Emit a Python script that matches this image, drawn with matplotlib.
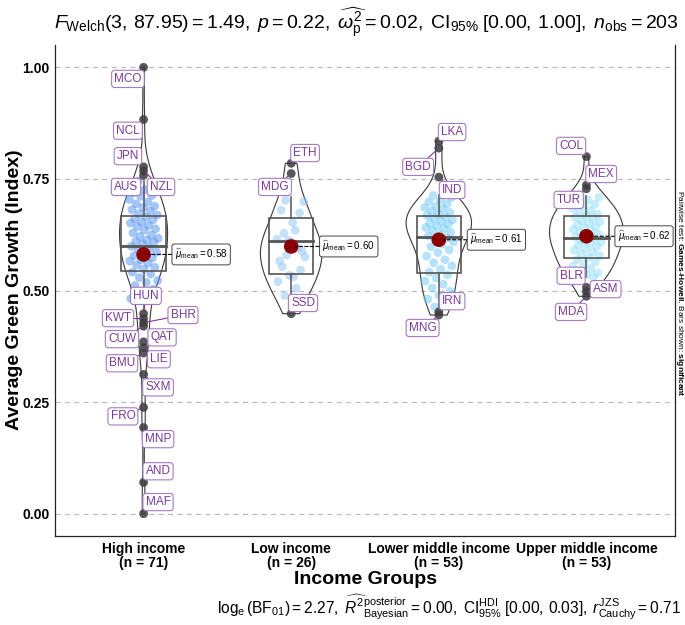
import numpy as np
import matplotlib
matplotlib.use('Agg')
import matplotlib.pyplot as plt
from matplotlib.patches import Rectangle, Polygon

plt.rcParams['font.family'] = ['Liberation Sans', 'DejaVu Sans']
plt.rcParams['mathtext.fontset'] = 'custom'
plt.rcParams['mathtext.rm'] = 'Liberation Sans'
plt.rcParams['mathtext.it'] = 'Liberation Sans:italic'
plt.rcParams['mathtext.bf'] = 'Liberation Sans:bold'

# ---------------- data ----------------
groups = ['High income', 'Low income', 'Lower middle income', 'Upper middle income']
n_obs = [71, 26, 53, 53]
y_ticks = [0.00, 0.25, 0.50, 0.75, 1.00]
y_tick_labels = ['0.00', '0.25', '0.50', '0.75', '1.00']

# non-labelled observations per group
high_vals = [0.745, 0.732, 0.726, 0.719, 0.713, 0.711, 0.704, 0.698, 0.694, 0.689,
             0.686, 0.681, 0.678, 0.672, 0.669, 0.665, 0.661, 0.658, 0.653, 0.651,
             0.646, 0.643, 0.638, 0.635, 0.629, 0.624, 0.621, 0.617, 0.613, 0.610,
             0.608, 0.604, 0.599, 0.595, 0.592, 0.586, 0.581, 0.578, 0.573, 0.569,
             0.566, 0.561, 0.557, 0.552, 0.548, 0.541, 0.537, 0.529, 0.522, 0.518,
             0.511, 0.503, 0.496, 0.482]
low_vals = [0.702, 0.699, 0.652, 0.680, 0.674, 0.612, 0.615, 0.635, 0.628, 0.588,
            0.609, 0.566, 0.595, 0.579, 0.575, 0.531, 0.553, 0.546, 0.534, 0.520,
            0.505, 0.489, 0.482]
lower_mid_vals = [0.713, 0.708, 0.702, 0.699, 0.694, 0.689, 0.686, 0.683, 0.678, 0.675,
                  0.671, 0.668, 0.665, 0.662, 0.658, 0.655, 0.651, 0.648, 0.645, 0.641,
                  0.638, 0.634, 0.630, 0.626, 0.622, 0.618, 0.614, 0.609, 0.604, 0.598,
                  0.591, 0.585, 0.577, 0.569, 0.562, 0.555, 0.548, 0.541, 0.535, 0.528,
                  0.521, 0.514, 0.506, 0.498, 0.489, 0.481, 0.472, 0.463]
upper_mid_vals = [0.714, 0.709, 0.703, 0.698, 0.693, 0.689, 0.684, 0.679, 0.675, 0.671,
                  0.668, 0.664, 0.661, 0.657, 0.654, 0.650, 0.647, 0.643, 0.640, 0.636,
                  0.633, 0.629, 0.626, 0.622, 0.619, 0.616, 0.612, 0.609, 0.605, 0.602,
                  0.598, 0.594, 0.590, 0.586, 0.582, 0.578, 0.574, 0.569, 0.564, 0.559,
                  0.554, 0.549, 0.544, 0.539, 0.535, 0.532, 0.530]

# labelled (outlying) observations per group
high_out_names = ['MCO', 'NCL', 'JPN', 'NZL', 'AUS', 'HUN', 'KWT', 'BHR', 'CUW', 'QAT',
                  'LIE', 'BMU', 'SXM', 'FRO', 'MNP', 'AND', 'MAF']
high_out_vals = [1.000, 0.883, 0.777, 0.768, 0.758, 0.448, 0.437, 0.428, 0.420, 0.385,
                 0.372, 0.360, 0.312, 0.238, 0.193, 0.070, 0.000]
low_out_names = ['ETH', 'MDG', 'SSD']
low_out_vals = [0.785, 0.762, 0.448]
lower_mid_out_names = ['LKA', 'BGD', 'IND', 'IRN', 'MNG']
lower_mid_out_vals = [0.835, 0.819, 0.754, 0.452, 0.445]
upper_mid_out_names = ['COL', 'MEX', 'TUR', 'BLR', 'ASM', 'MDA']
upper_mid_out_vals = [0.800, 0.736, 0.728, 0.507, 0.498, 0.487]

# box statistics: lower whisker, Q1, median, Q3, upper whisker
box_lo_whisker = [0.455, 0.468, 0.463, 0.530]
box_q1 = [0.544, 0.537, 0.540, 0.573]
box_median = [0.599, 0.612, 0.620, 0.618]
box_q3 = [0.667, 0.663, 0.667, 0.667]
box_hi_whisker = [0.745, 0.710, 0.713, 0.712]

title_text = (r'$F_{\mathrm{Welch}}(3,\,87.95) = 1.49,\;p = 0.22,\;'
              r'\widehat{\omega_{\mathrm{p}}^{2}} = 0.02,\;\mathrm{CI}_{95\%}\;[0.00,\,1.00],\;'
              r'n_{\mathrm{obs}} = 203$')
caption_text = (r'$\log_{\mathrm{e}}(\mathrm{BF}_{01}) = 2.27,\;'
                r'\widehat{R^{2}}_{\mathrm{Bayesian}}^{\mathrm{posterior}} = 0.00,\;'
                r'\mathrm{CI}_{95\%}^{\mathrm{HDI}}\;[0.00,\,0.03],\;'
                r'r_{\mathrm{Cauchy}}^{\mathrm{JZS}} = 0.71$')
side_text = r'Pairwise test: $\mathbf{Games}$-$\mathbf{Howell}$, Bars shown: $\mathbf{significant}$'
x_title = 'Income Groups'
y_title = 'Average Green Growth (Index)'

# ---------------- layout / style ----------------
point_colors = ['#4f8ff0', '#8cc4f6', '#6ec8f6', '#8fdcf5']
label_text_color = '#7b3a99'
label_edge_color = '#a57cc0'

# label positions (data coords) for the labelled observations
high_lab_pos = [(-0.106, 0.974), (-0.106, 0.858), (-0.106, 0.801), (0.118, 0.732), (-0.119, 0.732),
                (0.016, 0.488), (-0.173, 0.438), (0.267, 0.445), (-0.146, 0.391), (0.125, 0.395),
                (0.104, 0.346), (-0.146, 0.337), (0.098, 0.283), (-0.140, 0.218), (0.098, 0.167),
                (0.098, 0.095), (0.098, 0.026)]
low_lab_pos = [(1.094, 0.808), (0.890, 0.732), (1.080, 0.472)]
lower_mid_lab_pos = [(2.09, 0.855), (1.86, 0.777), (2.09, 0.725), (2.09, 0.476), (1.89, 0.416)]
upper_mid_lab_pos = [(2.896, 0.824), (3.10, 0.761), (2.88, 0.703), (2.896, 0.533), (3.13, 0.503),
                     (2.896, 0.452)]

vals_all = [high_vals, low_vals, lower_mid_vals, upper_mid_vals]
out_names_all = [high_out_names, low_out_names, lower_mid_out_names, upper_mid_out_names]
out_vals_all = [high_out_vals, low_out_vals, lower_mid_out_vals, upper_mid_out_vals]
lab_pos_all = [high_lab_pos, low_lab_pos, lower_mid_lab_pos, upper_mid_lab_pos]

W, H = 685, 625
fig = plt.figure(figsize=(W / 100, H / 100), dpi=100)
ax = fig.add_axes([55 / W, 1 - 536 / H, 620 / W, 491 / H])
ax.set_xlim(-0.6, 3.6)
ax.set_ylim(-0.05, 1.05)

for s in ['left', 'bottom', 'right']:
    ax.spines[s].set_color('#222222')
    ax.spines[s].set_linewidth(0.9)
ax.spines['top'].set_visible(False)

ax.set_yticks(y_ticks)
ax.set_yticklabels(y_tick_labels, fontsize=10, fontweight='bold')
ax.set_xticks(range(len(groups)))
ax.set_xticklabels([f'{g}\n(n = {n})' for g, n in zip(groups, n_obs)],
                   fontsize=10, fontweight='bold', linespacing=1.05)
ax.tick_params(axis='both', length=0, pad=4)
for yt in y_ticks:
    ax.axhline(yt, color='#bdbdbd', lw=0.9, ls=(0, (4, 3.5)), zorder=0)


def kde(data, grid):
    data = np.asarray(data)
    n = len(data)
    sd = np.std(data, ddof=1)
    iqr = np.subtract(*np.percentile(data, [75, 25]))
    lo = min(sd, iqr / 1.34)
    bw = 0.9 * lo * n ** (-0.2)
    z = (grid[:, None] - data[None, :]) / bw
    return np.exp(-0.5 * z ** 2).sum(axis=1) / (n * bw * np.sqrt(2 * np.pi))


# violins (scale = area)
dens = []
grids = []
for i in range(4):
    d = np.concatenate([vals_all[i], out_vals_all[i]])
    g = np.linspace(d.min(), d.max(), 400)
    grids.append(g)
    dens.append(kde(d, g))
dmax = max(dd.max() for dd in dens)
for i in range(4):
    hw = 0.25 * dens[i] / dmax
    g = grids[i]
    xs = np.concatenate([i - hw, (i + hw)[::-1]])
    ys = np.concatenate([g, g[::-1]])
    ax.add_patch(Polygon(np.column_stack([xs, ys]), closed=True, fill=False,
                         edgecolor='#3a3a3a', lw=0.8, zorder=2))

# jittered points
for i in range(4):
    v = np.asarray(vals_all[i])
    k = np.arange(len(v))
    offs = ((k * 0.6180339887 + 0.31) % 1.0 - 0.5) * 0.2
    ax.scatter(i + offs, v, s=40, color=point_colors[i], alpha=0.5,
               edgecolors='none', zorder=3)

# boxes
bw_box = 0.3
for i in range(4):
    ax.add_patch(Rectangle((i - bw_box / 2, box_q1[i]), bw_box, box_q3[i] - box_q1[i],
                           fill=False, edgecolor='#555555', lw=1.2, zorder=4))
    ax.plot([i - bw_box / 2, i + bw_box / 2], [box_median[i]] * 2, color='#555555', lw=2.0, zorder=4)
    ax.plot([i, i], [box_q3[i], box_hi_whisker[i]], color='#555555', lw=1.1, zorder=4)
    ax.plot([i, i], [box_lo_whisker[i], box_q1[i]], color='#555555', lw=1.1, zorder=4)

# outliers + labels
for i in range(4):
    ov = out_vals_all[i]
    ax.scatter([i] * len(ov), ov, s=40, color='#3c3c3c', alpha=0.85, edgecolors='none', zorder=5)
    for name, val, (lx, ly) in zip(out_names_all[i], ov, lab_pos_all[i]):
        ax.annotate(name, xy=(i, val), xytext=(lx, ly), ha='center', va='center',
                    fontsize=8.5, color=label_text_color, zorder=7,
                    bbox=dict(boxstyle='round,pad=0.22,rounding_size=0.25', fc='white',
                              ec=label_edge_color, lw=0.8),
                    arrowprops=dict(arrowstyle='-', color=label_text_color, lw=0.8,
                                    shrinkA=0, shrinkB=2))

# means
for i in range(4):
    d = np.concatenate([vals_all[i], out_vals_all[i]])
    m = d.mean()
    ax.scatter([i], [m], s=110, color='#8b0000', zorder=6, edgecolors='none')
    ax.annotate(r'$\widehat{\mu}_{\mathrm{mean}} = $' + f'{m:.2f}', xy=(i, m), xytext=(i + 0.39, m),
                ha='center', va='center', fontsize=7, color='black', zorder=7,
                bbox=dict(boxstyle='round,pad=0.3,rounding_size=0.25', fc='white', ec='#444444', lw=0.7),
                arrowprops=dict(arrowstyle='-', color='black', lw=0.8, ls=(0, (3, 2)),
                                shrinkA=0, shrinkB=3))

# texts
fig.text(54 / W, 1 - 23 / H, title_text, ha='left', va='center', fontsize=14)
fig.text(681 / W, 1 - 607 / H, caption_text, ha='right', va='center', fontsize=11.2)
fig.text(365 / W, 1 - 579 / H, x_title, ha='center', va='center', fontsize=14, fontweight='bold')
fig.text(15 / W, 1 - 290 / H, y_title, ha='center', va='center', fontsize=14, fontweight='bold',
         rotation=90)
fig.text(680 / W, 1 - 293 / H, side_text, ha='center', va='center', fontsize=6, rotation=270)

fig.savefig('out.png', dpi=100)
